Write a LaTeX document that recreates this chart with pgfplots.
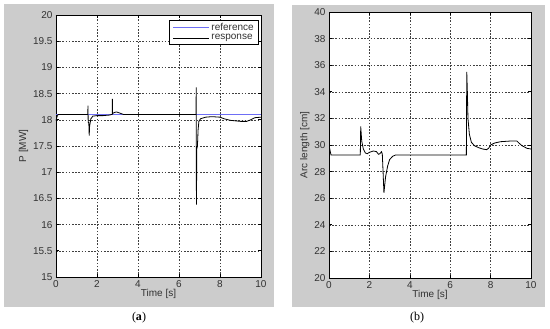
\documentclass[border=0pt]{standalone}
\usepackage{fontspec}
\setmainfont{Liberation Sans}
\newfontfamily\seriffont{Liberation Serif}
\usepackage{pgfplots}
\pgfplotsset{compat=1.18}
\definecolor{figgray}{RGB}{204,204,204}
\definecolor{refblue}{RGB}{110,110,245}
\definecolor{txt}{RGB}{50,50,50}
\pgfplotsset{
  matlab/.style={
    scale only axis,
    anchor=south west,
    axis background/.style={fill=white},
    axis line style={black, line width=0.8pt},
    tick pos=both,
    tick align=inside,
    major tick length=3pt,
    tick style={black, line width=0.6pt},
    grid=major,
    major grid style={black!75, line width=0.5pt, dash pattern=on 1.6pt off 1.6pt},
    ticklabel style={font=\fontsize{10}{11}\selectfont, text=txt},
    label style={font=\fontsize{10}{11}\selectfont, text=txt},
    /pgf/number format/assume math mode=true,
    xmin=0, xmax=10,
    xtick={0,2,...,10},
    xlabel={Time [s]},
    xlabel style={yshift=5pt},
    ylabel style={yshift=-2pt},
  }
}
\begin{document}
\begin{tikzpicture}[x=1pt,y=1pt]
\path[use as bounding box] (0,0) rectangle (550,329);
\fill[figgray] (4,22) rectangle (274,325);
\fill[figgray] (292,22) rectangle (545,324);
\begin{axis}[matlab,
  at={(56pt,52pt)}, width=205pt, height=262pt,
  ymin=15, ymax=20, ytick={15,15.5,...,20},
  yticklabel style={/pgf/number format/.cd, fixed, precision=1},
  ylabel={P [MW]},
  legend style={at={(1,1)}, anchor=north east, xshift=-2pt, yshift=-5pt,
    font=\fontsize{10}{10}\selectfont, text=txt, draw=black, line width=0.6pt,
    inner xsep=3pt, inner ysep=1pt, row sep=-1.5pt, cells={anchor=west}},
  legend image code/.code={\draw[#1, line width=0.8pt] (0pt,0pt) -- (36pt,0pt);},
]
\addplot[refblue, line width=0.9pt] coordinates {(0,18.1) (10,18.1)};
\addlegendentry{reference}
\addplot[black, line width=0.8pt] coordinates {
(0,17.98) (0.05,18.06) (0.1,18.1) (1.5,18.1) (1.55,18.1) (1.56,18.27) (1.57,17.95)
(1.6,17.95) (1.62,17.7) (1.64,17.88) (1.7,18.02) (1.8,18.07) (2.0,18.08) (2.3,18.08)
(2.6,18.09) (2.7,18.1) (2.74,18.1) (2.75,18.4) (2.76,18.12) (2.85,18.14) (2.95,18.15)
(3.1,18.13) (3.3,18.1) (6.83,18.1) (6.84,18.62) (6.85,16.38) (6.87,17.45) (6.9,17.5)
(6.93,17.8) (6.97,17.97) (7.05,18.02) (7.3,18.05) (7.6,18.06) (8.0,18.05) (8.2,18.02)
(8.5,17.99) (9.0,17.97) (9.3,17.97) (9.5,18.0) (9.7,18.04) (10,18.05)};
\addlegendentry{response}
\end{axis}
\begin{axis}[matlab,
  at={(329pt,51pt)}, width=202pt, height=266pt,
  ymin=20, ymax=40, ytick={20,22,...,40},
  ylabel={Arc length [cm]},
]
\addplot[black, line width=0.8pt] coordinates {
(0,30.0) (0.05,29.6) (0.1,29.25) (1.55,29.25) (1.57,31.4) (1.62,30.3) (1.7,29.7)
(1.8,29.4) (1.9,29.35) (2.0,29.45) (2.2,29.55) (2.35,29.5) (2.45,29.3) (2.52,29.35)
(2.6,29.5) (2.64,29.3) (2.72,26.4) (2.8,27.6) (2.9,28.4) (3.0,28.9) (3.15,29.15)
(3.3,29.25) (6.8,29.25) (6.82,35.5) (6.85,34.0) (6.88,32.0) (6.95,30.8) (7.05,30.2)
(7.2,29.95) (7.4,29.8) (7.6,29.7) (7.8,29.65) (7.9,29.75) (8.0,30.0) (8.2,30.15)
(8.5,30.25) (9.0,30.3) (9.3,30.3) (9.4,30.15) (9.55,29.95) (9.8,29.75) (10,29.7)};
\end{axis}
\node[font=\seriffont\fontsize{12}{13}\selectfont] at (139,11) {(\textbf{a})};
\node[font=\seriffont\fontsize{12}{13}\selectfont] at (417,11) {(b)};
\end{tikzpicture}
\end{document}
